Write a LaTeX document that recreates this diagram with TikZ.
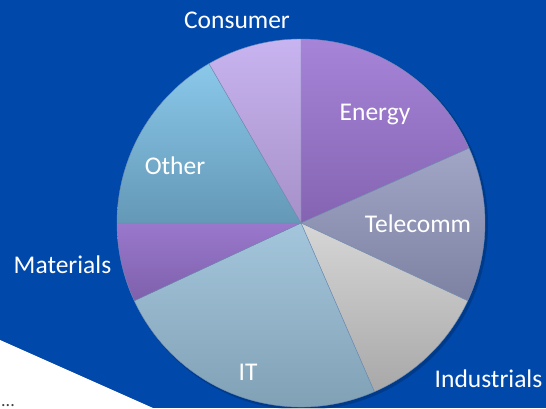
\documentclass[tikz,border=0pt]{standalone}
\usepackage{fontspec}
\setmainfont{Carlito}
\usetikzlibrary{positioning}
\definecolor{bgblue}{RGB}{0,72,170}
\definecolor{edgeline}{RGB}{112,140,176}
\tikzset{
  slice/.style={draw=edgeline,line width=0.4pt},
  lbl/.style={text=white,font=\fontsize{25.5}{28}\selectfont,anchor=base,inner sep=0pt}
}
\begin{document}
\begin{tikzpicture}[x=1pt,y=1pt]
\useasboundingbox (0,0) rectangle (546,408);
\fill[bgblue] (0,0) rectangle (546,408);
\fill[white] (0,0) -- (0,68) -- (153,0) -- cycle;
\node[text=black!75,font=\fontsize{18}{18}\selectfont,anchor=base west,inner sep=0pt,text depth=0pt,text height=3pt] (dots) at (1,2) {...};
\coordinate (C) at (301,185);
% shadow
\fill[black,opacity=0.18] (C) ++(2,-2) circle[radius=185];
% slices
\draw[slice,top color={rgb,255:red,166;green,132;blue,216},bottom color={rgb,255:red,132;green,100;blue,178}]
  (C) -- ++(24:184) arc[start angle=24,end angle=90,radius=184] -- cycle;
\draw[slice,top color={rgb,255:red,162;green,166;blue,198},bottom color={rgb,255:red,126;green,130;blue,162}]
  (C) -- ++(-25:184) arc[start angle=-25,end angle=24,radius=184] -- cycle;
\draw[slice,top color={rgb,255:red,214;green,214;blue,214},bottom color={rgb,255:red,168;green,168;blue,168}]
  (C) -- ++(-66.5:184) arc[start angle=-66.5,end angle=-25,radius=184] -- cycle;
\draw[slice,top color={rgb,255:red,164;green,198;blue,220},bottom color={rgb,255:red,124;green,156;blue,176}]
  (C) -- ++(205:184) arc[start angle=205,end angle=293.5,radius=184] -- cycle;
\draw[slice,top color={rgb,255:red,154;green,120;blue,204},bottom color={rgb,255:red,126;green,96;blue,172}]
  (C) -- ++(180:184) arc[start angle=180,end angle=205,radius=184] -- cycle;
\draw[slice,top color={rgb,255:red,138;green,200;blue,234},bottom color={rgb,255:red,100;green,152;blue,182}]
  (C) -- ++(120:184) arc[start angle=120,end angle=180,radius=184] -- cycle;
\draw[slice,top color={rgb,255:red,200;green,180;blue,240},bottom color={rgb,255:red,166;green,144;blue,200}]
  (C) -- ++(90:184) arc[start angle=90,end angle=120,radius=184] -- cycle;
% labels
\node[lbl] (consumer) at (237,379) {Consumer};
\node[lbl] (energy) at (375,288) {Energy};
\node[lbl] (other) at (175,234) {Other};
\node[lbl] (telecomm) at (418,176) {Telecomm};
\node[lbl] (materials) at (62.5,135) {Materials};
\node[lbl] (it) at (248,28) {IT};
\node[lbl] (industrials) at (488.5,21) {Industrials};
\end{tikzpicture}
\end{document}
